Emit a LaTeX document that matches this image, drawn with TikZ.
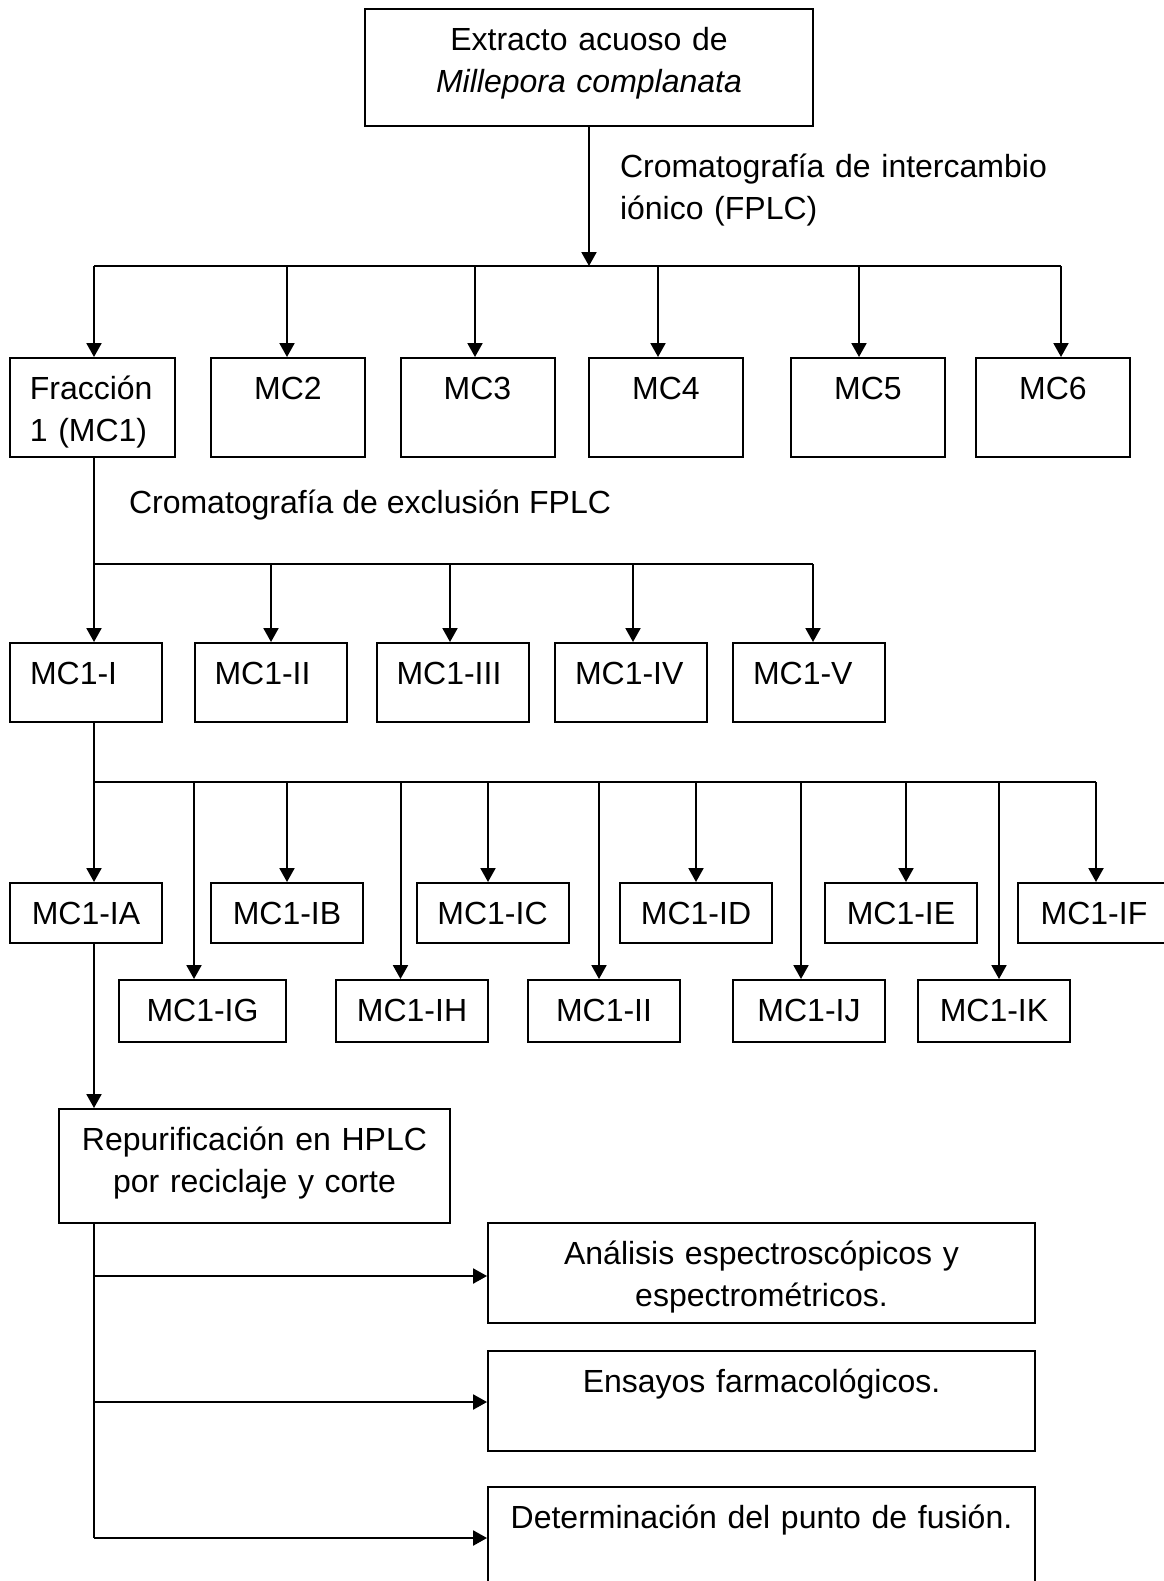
\documentclass[tikz,border=0pt]{standalone}
\usepackage{fontspec}
\setmainfont{Liberation Sans}
\usetikzlibrary{arrows.meta}
\begin{document}
\begin{tikzpicture}[x=0.375pt,y=-0.375pt,
	font=\fontsize{12}{15.75}\selectfont,
	line width=0.75pt,
	arr/.style={-{Triangle[length=5.2pt,width=5.6pt]}},
	box/.style={draw,anchor=north,inner xsep=7.5pt,inner ysep=0pt,text height=15.4pt,align=center},
	row1/.style={box,text width=42.75pt,text depth=21.75pt},
	row2/.style={box,text width=42pt,text depth=14.25pt,align=left},
	row3/.style={box,text width=42pt,text depth=7.125pt},
	row4/.style={box,text width=42pt,text depth=7.875pt},
	res/.style={box,text width=190.1pt,text depth=22.1pt},
	lbl/.style={anchor=base west,inner sep=0pt,align=left}]
	\useasboundingbox (0,0) rectangle (1163,1581);
	\node[box,text width=153pt,text depth=28.5pt] (extracto) at (589,8) {Extracto acuoso de\\\textit{Millepora complanata}};
	\node[lbl,text width=170pt] (ionico) at (619,177) {Cromatografía de intercambio\\iónico (FPLC)};
	\node[row1,text width=47pt,inner xsep=7.44pt,align=left] (frac) at (92.5,357) {Fracción\\1 (MC1)};
	\node[row1] (mc2) at (288,357) {MC2};
	\node[row1] (mc3) at (477.5,357) {MC3};
	\node[row1] (mc4) at (666,357) {MC4};
	\node[row1] (mc5) at (868,357) {MC5};
	\node[row1] (mc6) at (1053,357) {MC6};
	\node[lbl] (exclusion) at (128,513) {Cromatografía de exclusión FPLC};
	\node[row2] (mc1i) at (86,642) {MC1-I};
	\node[row2] (mc1ii) at (270.5,642) {MC1-II};
	\node[row2] (mc1iii) at (452.5,642) {MC1-III};
	\node[row2] (mc1iv) at (631,642) {MC1-IV};
	\node[row2] (mc1v) at (809,642) {MC1-V};
	\node[row3] (mc1ia) at (86,882) {MC1-IA};
	\node[row3] (mc1ib) at (287,882) {MC1-IB};
	\node[row3] (mc1ic) at (492.5,882) {MC1-IC};
	\node[row3] (mc1id) at (696,882) {MC1-ID};
	\node[row3] (mc1ie) at (901,882) {MC1-IE};
	\node[row3] (mc1if) at (1094,882) {MC1-IF};
	\node[row4,text width=47.6pt] (mc1ig) at (202.5,979) {MC1-IG};
	\node[row4] (mc1ih) at (412,979) {MC1-IH};
	\node[row4] (mc1ii2) at (604,979) {MC1-II};
	\node[row4] (mc1ij) at (809,979) {MC1-IJ};
	\node[row4] (mc1ik) at (994,979) {MC1-IK};
	\node[box,text width=131.6pt,text depth=27.4pt] (repur) at (254.5,1108) {Repurificación en HPLC\\por reciclaje y corte};
	\node[res] (analisis) at (761.5,1222) {Análisis espectroscópicos y\\espectrométricos.};
	\node[res] (ensayos) at (761.5,1350) {Ensayos farmacológicos.};
	\node[res,text depth=27.4pt] (fusion) at (761.5,1486) {Determinación del punto de fusión.};
	% first separation
	\coordinate (j0) at (589,266);
	\coordinate (b1) at (94,266);
	\coordinate (b2) at (287,266);
	\coordinate (b3) at (475,266);
	\coordinate (b4) at (658,266);
	\coordinate (b5) at (859,266);
	\coordinate (b6) at (1061,266);
	\draw[arr] (extracto) -- (j0);
	\draw (b1) -- (b6);
	\draw[arr] (b1) -- (b1 |- frac.north);
	\draw[arr] (b2) -- (b2 |- mc2.north);
	\draw[arr] (b3) -- (b3 |- mc3.north);
	\draw[arr] (b4) -- (b4 |- mc4.north);
	\draw[arr] (b5) -- (b5 |- mc5.north);
	\draw[arr] (b6) -- (b6 |- mc6.north);
	% exclusion
	\coordinate (c1) at (94,564);
	\coordinate (c2) at (271,564);
	\coordinate (c3) at (450,564);
	\coordinate (c4) at (633,564);
	\coordinate (c5) at (813,564);
	\draw[arr] (c1 |- frac.south) -- (c1 |- mc1i.north);
	\draw (c1) -- (c5);
	\draw[arr] (c2) -- (c2 |- mc1ii.north);
	\draw[arr] (c3) -- (c3 |- mc1iii.north);
	\draw[arr] (c4) -- (c4 |- mc1iv.north);
	\draw[arr] (c5) -- (c5 |- mc1v.north);
	% subfractions of MC1-I
	\coordinate (d1) at (94,782);
	\coordinate (d2) at (194,782);
	\coordinate (d3) at (287,782);
	\coordinate (d4) at (400.5,782);
	\coordinate (d5) at (488,782);
	\coordinate (d6) at (599,782);
	\coordinate (d7) at (696,782);
	\coordinate (d8) at (801,782);
	\coordinate (d9) at (906,782);
	\coordinate (d10) at (999,782);
	\coordinate (d11) at (1096,782);
	\draw[arr] (d1 |- mc1i.south) -- (d1 |- mc1ia.north);
	\draw (d1) -- (d11);
	\draw[arr] (d3) -- (d3 |- mc1ib.north);
	\draw[arr] (d5) -- (d5 |- mc1ic.north);
	\draw[arr] (d7) -- (d7 |- mc1id.north);
	\draw[arr] (d9) -- (d9 |- mc1ie.north);
	\draw[arr] (d11) -- (d11 |- mc1if.north);
	\draw[arr] (d2) -- (d2 |- mc1ig.north);
	\draw[arr] (d4) -- (d4 |- mc1ih.north);
	\draw[arr] (d6) -- (d6 |- mc1ii2.north);
	\draw[arr] (d8) -- (d8 |- mc1ij.north);
	\draw[arr] (d10) -- (d10 |- mc1ik.north);
	\draw[arr] (d1 |- mc1ia.south) -- (d1 |- repur.north);
	% analyses
	\coordinate (h1) at (94,1276);
	\coordinate (h2) at (94,1402);
	\coordinate (h3) at (94,1538);
	\draw (h1 |- repur.south) -- (h3);
	\draw[arr] (h1) -- (h1 -| analisis.west);
	\draw[arr] (h2) -- (h2 -| ensayos.west);
	\draw[arr] (h3) -- (h3 -| fusion.west);
\end{tikzpicture}
\end{document}
